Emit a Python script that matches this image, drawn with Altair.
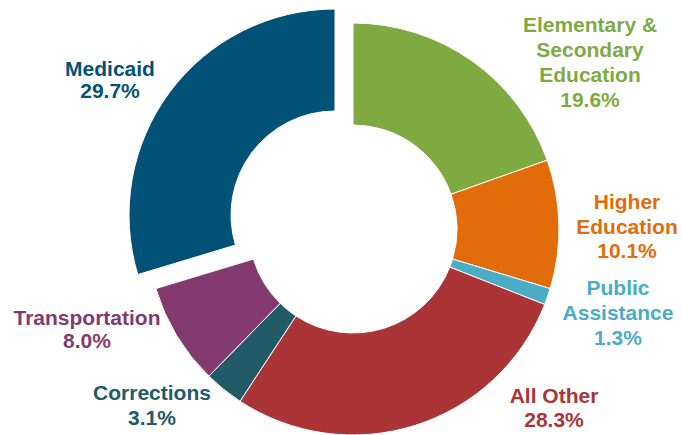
import altair as alt
import pandas as pd

categories = ["Elementary & Secondary Education", "Higher Education", "Public Assistance",
              "All Other", "Corrections", "Transportation", "Medicaid"]
values = [19.6, 10.1, 1.3, 28.3, 3.1, 8.0, 29.7]
colors = ["#7faa42", "#e36c0a", "#4bacc6", "#ab3437", "#235a67", "#833a6f", "#025278"]
label_text = ["Elementary &\nSecondary\nEducation\n19.6%", "Higher\nEducation\n10.1%",
              "Public\nAssistance\n1.3%", "All Other\n28.3%", "Corrections\n3.1%",
              "Transportation\n8.0%", "Medicaid\n29.7%"]

# label anchor positions (annotation layout)
label_x = [590, 627, 618, 554, 152, 87, 110]
label_y = [32, 209, 295, 403, 400, 325, 76]
label_lh = [25, 24.5, 25, 24, 25, 23, 22]

CX, CY = 353, 229
R_OUT, R_IN = 206, 104
EXPLODE_DX, EXPLODE_DY = -18, -14

df = pd.DataFrame({
    "category": categories,
    "value": values,
    "order": list(range(len(categories))),
    "exploded": [c == "Medicaid" for c in categories],
})

color_scale = alt.Scale(domain=categories, range=colors)

def ring(center_x, center_y, show_exploded):
    return alt.Chart(df).mark_arc(
        outerRadius=R_OUT, innerRadius=R_IN, stroke="white", strokeWidth=1
    ).encode(
        theta=alt.Theta("value:Q", stack=True, scale=alt.Scale(range=[0, 6.283185307])),
        order=alt.Order("order:Q"),
        color=alt.Color("category:N", scale=color_scale, legend=None),
        opacity=alt.condition(
            alt.datum.exploded == show_exploded, alt.value(1), alt.value(0)
        ),
        x=alt.value(center_x),
        y=alt.value(center_y),
    )

base = ring(CX, CY, False)
expl = ring(CX + EXPLODE_DX, CY + EXPLODE_DY, True)

layers = [base, expl]
for i, cat in enumerate(categories):
    ldf = pd.DataFrame({"category": [cat], "text": [label_text[i]],
                        "lx": [label_x[i]], "ly": [label_y[i]]})
    t = alt.Chart(ldf).mark_text(
        font="Liberation Sans", fontSize=21, fontWeight="bold",
        align="center", baseline="alphabetic", lineBreak="\n", lineHeight=label_lh[i]
    ).encode(
        x=alt.X("lx:Q", scale=None),
        y=alt.Y("ly:Q", scale=None),
        text="text:N",
        color=alt.Color("category:N", scale=color_scale, legend=None),
    )
    layers.append(t)

chart = alt.layer(*layers).properties(
    width=682, height=435, autosize=alt.AutoSizeParams(type="none"), padding=0
).configure_view(stroke=None)

chart.save("out.html", embed_options={"renderer": "svg", "actions": False})
